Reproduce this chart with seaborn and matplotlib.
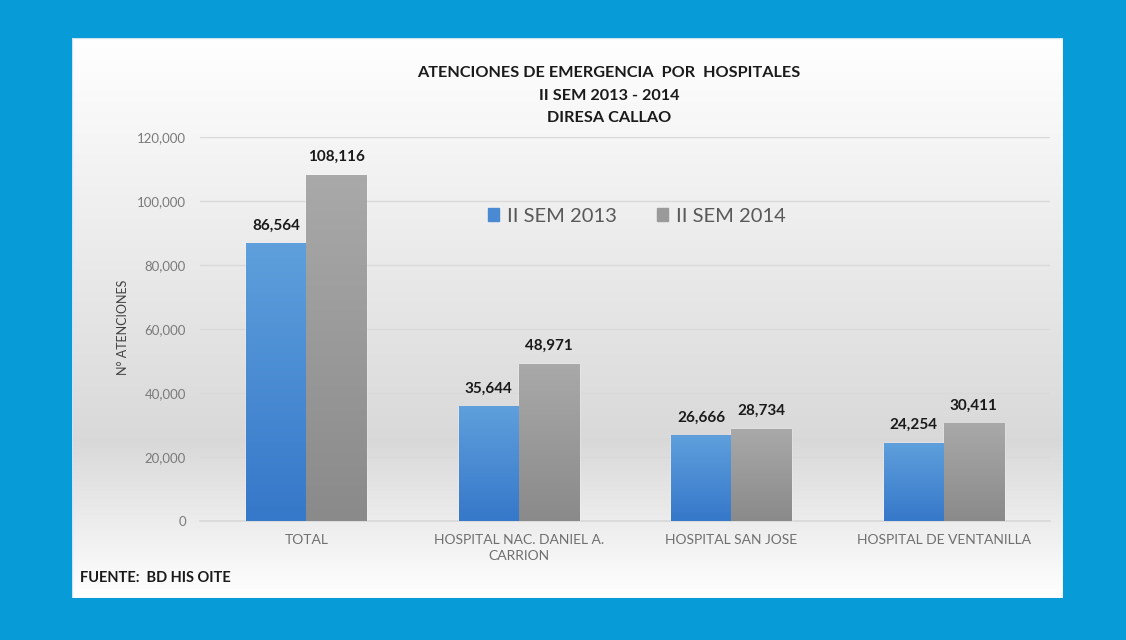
import numpy as np
import pandas as pd
import matplotlib
matplotlib.use("Agg")
import matplotlib.pyplot as plt
import seaborn as sns
from matplotlib.patches import Rectangle, Patch

categories = ["TOTAL", "HOSPITAL NAC. DANIEL A.\nCARRION", "HOSPITAL SAN JOSE", "HOSPITAL DE VENTANILLA"]
series_names = ["II SEM 2013", "II SEM 2014"]
values_2013 = [86564, 35644, 26666, 24254]
values_2014 = [108116, 48971, 28734, 30411]
y_ticks = [0, 20000, 40000, 60000, 80000, 100000, 120000]

sns.set_theme(style="white")
plt.rcParams['font.family'] = ['Lato', 'DejaVu Sans']

df = pd.DataFrame({
    "cat": categories * 2,
    "serie": [series_names[0]] * 4 + [series_names[1]] * 4,
    "val": values_2013 + values_2014,
})

W, H = 1126, 640
fig = plt.figure(figsize=(W / 100, H / 100), dpi=100)
fig.patch.set_facecolor("#079bd8")

# white panel with vertical gradient
px0, px1, py0, py1 = 72, 1063, 38, 598
pax = fig.add_axes([px0 / W, 1 - py1 / H, (px1 - px0) / W, (py1 - py0) / H])
pax.set_axis_off()
t = np.linspace(0, 1, 256)
g = np.where(t < 0.72, 1 - 0.15 * (t / 0.72), 0.85 + 0.15 * ((t - 0.72) / 0.28))
grad = np.dstack([g, g, g])[0][:, None, :]
pax.imshow(grad, aspect="auto", extent=[0, 1, 0, 1], origin="upper")
pax.set_xlim(0, 1)
pax.set_ylim(0, 1)
pax.add_patch(Rectangle((0, 0), 1, 1, fill=False, ec="#cfe3f0", lw=1))

ax = fig.add_axes([200 / W, 1 - 521 / H, 850 / W, 384 / H])
ax.patch.set_alpha(0)
colors = {"II SEM 2013": "#4a8ad2", "II SEM 2014": "#9a9a9a"}
sns.barplot(data=df, x="cat", y="val", hue="serie", palette=colors, ax=ax,
            width=0.565, gap=0, legend=False, saturation=1, zorder=3)

ax.set_ylim(0, 120000)
ax.set_yticks(y_ticks)
ax.set_yticklabels([f"{v:,}" for v in y_ticks], color="#7a7a7a", fontsize=9.5)
ax.tick_params(axis="x", colors="#6f6f6f", labelsize=10, length=0, pad=9)
for lbl in ax.get_xticklabels():
    lbl.set_linespacing(1.45)
ax.tick_params(axis="y", length=0, pad=10)
ax.yaxis.grid(True, color="#d9d9d9", lw=1, zorder=0)
for s in ["top", "right", "left"]:
    ax.spines[s].set_visible(False)
ax.spines["bottom"].set_color("#d9d9d9")
ax.set_xlabel("")
ax.set_ylabel("N° ATENCIONES", fontsize=9, color="#404040")
ax.yaxis.set_label_coords(-0.084, 0.505)
ax.set_xlim(-0.5, 3.5)

# gradient fill on bars
tops = {"#4a8ad2": ("#5e9fdc", "#3678c9"), "#9a9a9a": ("#a9a9a9", "#8a8a8a")}
for p in ax.patches:
    fc = matplotlib.colors.to_hex(p.get_facecolor())
    x0 = p.get_x(); w = p.get_width(); h = p.get_height()
    if h <= 0:
        continue
    c_top, c_bot = tops.get(fc, (fc, fc))
    ct = np.array(matplotlib.colors.to_rgb(c_top)); cb = np.array(matplotlib.colors.to_rgb(c_bot))
    tt = np.linspace(0, 1, 100)[:, None]
    img = (ct * (1 - tt) + cb * tt)[:, None, :]
    ax.imshow(img, extent=[x0, x0 + w, 0, h], aspect="auto", origin="upper", zorder=4)
    ax.text(x0 + w / 2, h + 3500, f"{int(h):,}", ha="center", va="bottom",
            fontsize=11, fontweight="bold", color="#1a1a1a", zorder=5)
ax.set_xlim(-0.5, 3.5)
ax.set_ylim(0, 120000)

handles = [Patch(color=colors[s]) for s in series_names]
ax.legend(handles, series_names, loc="center", bbox_to_anchor=(0.514, 0.794),
          ncol=2, frameon=False, fontsize=14.5, handlelength=0.55, handleheight=0.55,
          handletextpad=0.4, columnspacing=2.0, labelcolor="#595959")

for txt, yy in [("ATENCIONES DE EMERGENCIA  POR  HOSPITALES", 73), ("II SEM 2013 - 2014", 96), ("DIRESA CALLAO", 118)]:
    fig.text(609 / W, 1 - yy / H, txt, ha="center", va="center",
             fontsize=11.7, fontweight="bold", color="#1a1a1a")
fig.text(80 / W, 1 - 578 / H, "FUENTE:  BD HIS OITE", ha="left", va="center",
         fontsize=10.5, fontweight="bold", color="#1a1a1a")

fig.savefig("out.png", dpi=100, facecolor=fig.get_facecolor())
